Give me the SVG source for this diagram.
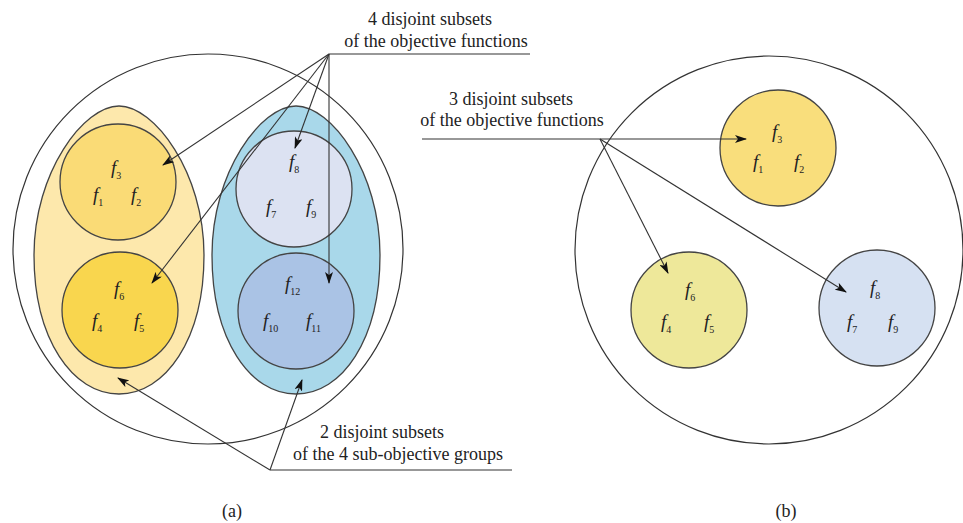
<svg xmlns="http://www.w3.org/2000/svg" width="963" height="523" viewBox="0 0 963 523">
<defs>
<marker id="ah" markerUnits="userSpaceOnUse" markerWidth="12" markerHeight="8" refX="11" refY="4" orient="auto">
<path d="M0,0 L12,4 L0,8 L3,4 Z" fill="#111"/>
</marker>
<style>
.ln{fill:none;stroke:#333;stroke-width:1.2}
.sh{stroke:#444;stroke-width:1.3}
.ar{fill:none;stroke:#333;stroke-width:1.1;marker-end:url(#ah)}
.f{font-style:italic;font-size:19px;fill:#222}
.s{font-style:normal;font-size:10px}
.t{font-size:18px;fill:#222;text-anchor:middle}
</style>
</defs>
<rect width="963" height="523" fill="#fff"/>
<g font-family="Liberation Serif, Tinos, DejaVu Serif, Noto Serif, FreeSerif, Times New Roman, serif">
<g id="outer-a"><circle class="ln" cx="208" cy="249" r="195"/></g>
<g id="group-yellow"><path class="sh" d="M119,106 C154,106 204,172 204,255 C204,340 165,394 119,394 C73,394 34,340 34,255 C34,172 84,106 119,106 Z" fill="#FDE8AC"/></g>
<g id="group-blue"><path class="sh" d="M296,106 C331,106 380,172 380,255 C380,340 342,394 296,394 C250,394 212,340 212,255 C212,172 261,106 296,106 Z" fill="#A9D8EA"/></g>
<g id="a-f3"><circle class="sh" cx="118" cy="182" r="58" fill="#FADB76"/>
<text class="f" x="111" y="174">f<tspan class="s" dy="5">3</tspan></text>
<text class="f" x="93" y="201">f<tspan class="s" dy="5">1</tspan></text>
<text class="f" x="131" y="201">f<tspan class="s" dy="5">2</tspan></text></g>
<g id="a-f6"><circle class="sh" cx="120" cy="310" r="58" fill="#F9D64E"/>
<text class="f" x="114" y="295">f<tspan class="s" dy="5">6</tspan></text>
<text class="f" x="92" y="327">f<tspan class="s" dy="5">4</tspan></text>
<text class="f" x="134" y="327">f<tspan class="s" dy="5">5</tspan></text></g>
<g id="a-f8"><circle class="sh" cx="294" cy="189" r="58" fill="#DCE2F2"/>
<text class="f" x="289" y="168">f<tspan class="s" dy="5">8</tspan></text>
<text class="f" x="266" y="213">f<tspan class="s" dy="5">7</tspan></text>
<text class="f" x="306" y="213">f<tspan class="s" dy="5">9</tspan></text></g>
<g id="a-f12"><circle class="sh" cx="296" cy="311" r="58" fill="#AAC3E5"/>
<text class="f" x="285" y="290">f<tspan class="s" dy="5">12</tspan></text>
<text class="f" x="263" y="327">f<tspan class="s" dy="5">10</tspan></text>
<text class="f" x="306" y="327">f<tspan class="s" dy="5">11</tspan></text></g>
<g id="outer-b"><circle class="ln" cx="769" cy="250" r="194"/></g>
<g id="b-f3"><circle class="sh" cx="778" cy="148" r="58" fill="#F9DE7C"/>
<text class="f" x="772" y="138">f<tspan class="s" dy="5">3</tspan></text>
<text class="f" x="753" y="168">f<tspan class="s" dy="5">1</tspan></text>
<text class="f" x="794" y="168">f<tspan class="s" dy="5">2</tspan></text></g>
<g id="b-f6"><circle class="sh" cx="689" cy="310" r="58" fill="#EEE89A"/>
<text class="f" x="685" y="296">f<tspan class="s" dy="5">6</tspan></text>
<text class="f" x="661" y="328">f<tspan class="s" dy="5">4</tspan></text>
<text class="f" x="704" y="328">f<tspan class="s" dy="5">5</tspan></text></g>
<g id="b-f8"><circle class="sh" cx="877" cy="308" r="58" fill="#D6E1F2"/>
<text class="f" x="870" y="294">f<tspan class="s" dy="5">8</tspan></text>
<text class="f" x="847" y="328">f<tspan class="s" dy="5">7</tspan></text>
<text class="f" x="888" y="328">f<tspan class="s" dy="5">9</tspan></text></g>
<g id="label-4"><text class="t" x="430" y="25">4 disjoint subsets</text>
<text class="t" x="436" y="47">of the objective functions</text></g>
<g id="label-2"><text class="t" x="382" y="438">2 disjoint subsets</text>
<text class="t" x="398" y="460">of the 4 sub-objective groups</text></g>
<g id="label-3"><text class="t" x="511" y="105">3 disjoint subsets</text>
<text class="t" x="512" y="126">of the objective functions</text></g>
<g id="captions"><text class="t" x="232" y="517">(a)</text>
<text class="t" x="786" y="517">(b)</text></g>
</g>
<g id="connectors">
<line class="ln" x1="329" y1="54" x2="530" y2="54"/>
<path class="ar" d="M329,54 L163,165"/>
<path class="ar" d="M329,54 L152,283"/>
<path class="ar" d="M329,54 L295,148"/>
<path class="ar" d="M329,54 L329,283"/>
<line class="ln" x1="270" y1="470" x2="512" y2="470"/>
<path class="ar" d="M270,470 L118,378"/>
<path class="ar" d="M270,470 L302,380"/>
<line class="ln" x1="422" y1="139" x2="600" y2="139"/>
<path class="ar" d="M600,139 L746,139"/>
<path class="ar" d="M600,139 L668,273"/>
<path class="ar" d="M600,139 L846,292"/>
</g>
</svg>
